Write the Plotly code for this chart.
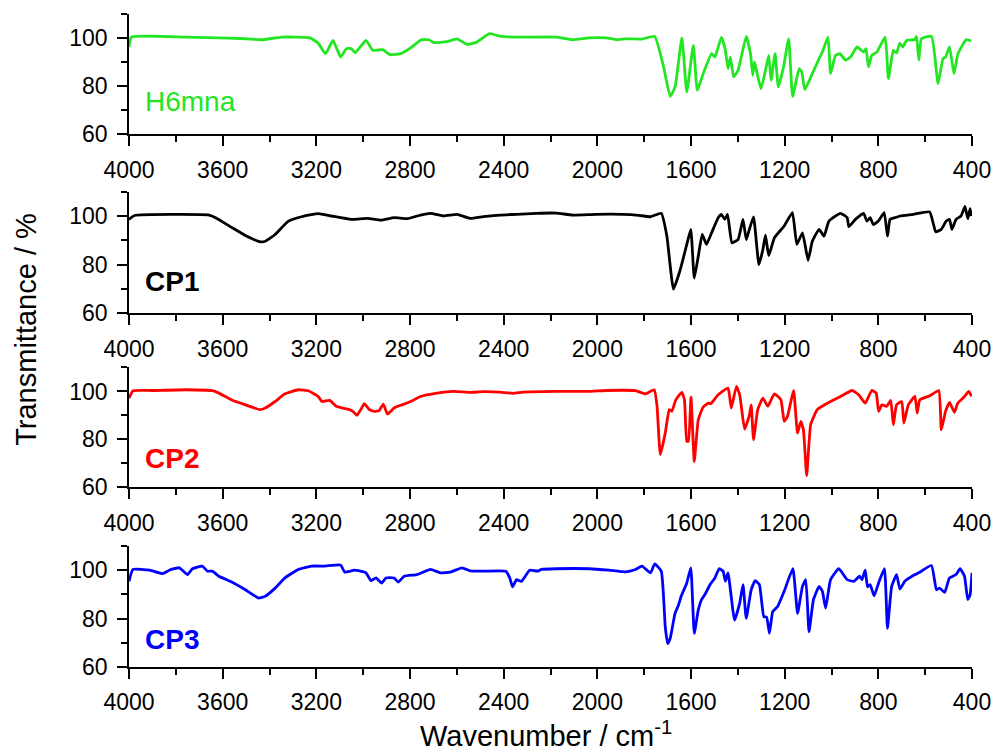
import plotly.graph_objects as go

# ---------------- data (wavenumber cm-1, transmittance %) ----------------
h6mna_wn = [4000, 3990, 3757, 3574, 3475, 3432, 3348, 3228, 3192, 3161, 3129, 3096, 3072, 3051, 3034,
            2988, 2959, 2917, 2885, 2840, 2797, 2752, 2719, 2698, 2642, 2599, 2557, 2515, 2461, 2416,
            2345, 2176, 2105, 2035, 1964, 1915, 1879, 1809, 1755, 1717, 1689, 1668, 1639, 1618, 1590,
            1573, 1548, 1512, 1498, 1470, 1453, 1442, 1432, 1418, 1399, 1364, 1346, 1336, 1329, 1319,
            1301, 1279, 1268, 1258, 1241, 1227, 1205, 1183, 1166, 1138, 1127, 1114, 1082, 1053, 1039,
            1015, 1004, 983, 964, 940, 919, 891, 863, 853, 842, 828, 806, 771, 757, 736,
            722, 708, 696, 679, 644, 637, 627, 616, 573, 545, 524, 513, 496, 477, 460,
            425, 404]
h6mna_t = [96.3, 100.4, 100.4, 100.0, 99.6, 99.3, 100.4, 100.1, 97.9, 93.5, 99.0, 92.1, 95.6, 95.6, 93.9,
           99.0, 94.9, 95.2, 93.1, 93.5, 95.9, 99.3, 99.3, 98.1, 98.5, 99.7, 97.4, 98.3, 101.8, 100.8,
           100.4, 100.4, 99.3, 100.1, 100.1, 99.3, 99.7, 99.6, 100.7, 88.0, 75.8, 79.7, 100.1, 77.6, 97.0,
           78.3, 85.2, 93.5, 92.1, 100.4, 94.9, 87.3, 92.1, 83.9, 86.6, 100.7, 93.5, 84.5, 90.1, 85.9,
           79.0, 88.0, 92.8, 82.5, 93.5, 79.7, 88.0, 99.7, 75.8, 87.3, 85.9, 78.6, 85.2, 91.4, 94.2,
           100.4, 85.2, 92.8, 93.5, 90.8, 92.1, 96.3, 94.2, 95.6, 88.0, 92.8, 94.2, 100.4, 83.2, 94.9,
           93.8, 97.9, 96.3, 99.0, 99.4, 100.7, 90.8, 99.7, 100.7, 81.1, 91.4, 92.1, 96.3, 85.2, 93.5,
           99.3, 98.8]

cp1_wn = [4000, 3976, 3658, 3630, 3560, 3503, 3440, 3418, 3376, 3319, 3263, 3192, 3136, 3051, 2981,
          2924, 2868, 2811, 2755, 2712, 2656, 2599, 2543, 2487, 2416, 2345, 2261, 2176, 2105, 2006,
          1893, 1823, 1773, 1727, 1703, 1675, 1646, 1618, 1601, 1586, 1569, 1552, 1534, 1512, 1484,
          1470, 1456, 1444, 1425, 1399, 1378, 1364, 1353, 1333, 1310, 1293, 1282, 1268, 1244, 1202,
          1167, 1148, 1124, 1100, 1082, 1053, 1032, 1011, 962, 933, 926, 898, 863, 849, 835,
          821, 800, 775, 761, 750, 729, 707, 651, 581, 566, 555, 531, 510, 496, 486,
          468, 447, 430, 418, 408, 403]
cp1_t = [98.6, 100.2, 100.4, 99.3, 95.2, 92.0, 89.4, 89.6, 92.4, 97.9, 99.7, 101.0, 100.0, 98.6, 99.0,
         98.3, 99.3, 98.9, 100.4, 101.1, 100.0, 100.7, 99.0, 99.7, 100.4, 100.7, 101.1, 101.2, 100.4, 100.7,
         100.7, 100.3, 99.7, 101.1, 91.7, 69.9, 77.9, 88.3, 94.5, 74.5, 83.4, 92.4, 88.3, 93.1, 99.3,
         100.7, 98.6, 100.7, 89.0, 90.3, 98.6, 90.3, 93.8, 99.6, 80.0, 86.2, 92.1, 83.7, 91.0, 95.9,
         101.4, 88.3, 93.1, 81.8, 89.6, 94.5, 91.7, 97.9, 101.1, 99.3, 95.6, 98.6, 101.1, 97.9, 99.3,
         96.5, 97.9, 101.4, 91.7, 98.6, 99.3, 100.0, 100.7, 101.7, 97.2, 93.5, 94.5, 97.9, 98.6, 94.5,
         98.6, 100.0, 103.9, 98.9, 103.0, 100.0]

cp2_wn = [4000, 3983, 3898, 3757, 3644, 3616, 3559, 3503, 3440, 3418, 3376, 3334, 3277, 3235, 3192,
          3176, 3143, 3115, 3065, 3044, 3027, 3009, 2995, 2973, 2952, 2931, 2914, 2896, 2868, 2847,
          2825, 2797, 2755, 2684, 2614, 2543, 2487, 2416, 2360, 2317, 2176, 2035, 1964, 1837, 1795,
          1757, 1745, 1731, 1710, 1693, 1682, 1665, 1639, 1628, 1618, 1611, 1600, 1586, 1569, 1548,
          1526, 1515, 1484, 1442, 1428, 1406, 1392, 1371, 1350, 1343, 1333, 1315, 1293, 1272, 1244,
          1216, 1202, 1188, 1162, 1145, 1131, 1120, 1106, 1089, 1061, 1018, 962, 912, 884, 856,
          828, 809, 799, 785, 764, 747, 736, 722, 700, 691, 672, 644, 634, 623, 580,
          542, 531, 513, 496, 475, 461, 432, 414, 401]
cp2_t = [97.2, 100.3, 100.4, 100.7, 100.3, 99.3, 96.3, 94.4, 92.4, 93.1, 95.8, 99.0, 100.7, 100.3, 97.9,
         95.8, 96.3, 93.8, 92.6, 91.7, 90.0, 92.6, 94.9, 92.4, 91.7, 92.1, 94.7, 90.6, 93.1, 94.0,
         94.7, 95.8, 97.9, 99.3, 100.0, 99.6, 99.9, 99.7, 99.2, 99.7, 100.0, 100.0, 100.4, 100.3, 99.0,
         100.7, 93.8, 73.6, 82.6, 92.4, 91.7, 96.5, 99.6, 96.5, 79.2, 79.2, 97.6, 70.8, 88.2, 93.5,
         95.1, 94.9, 98.6, 101.4, 93.1, 102.1, 98.6, 84.3, 90.3, 94.4, 79.9, 92.4, 97.2, 93.8, 99.0,
         96.5, 87.5, 89.6, 100.4, 82.6, 87.5, 84.0, 64.9, 86.1, 92.4, 95.1, 97.9, 100.4, 98.6, 95.1,
         100.4, 99.3, 91.7, 94.4, 93.8, 96.3, 86.1, 94.4, 95.8, 86.8, 94.4, 97.9, 91.0, 96.5, 98.2,
         100.4, 84.0, 91.7, 95.4, 91.3, 95.1, 97.9, 100.0, 97.9]

cp3_wn = [4000, 3983, 3912, 3856, 3828, 3785, 3750, 3729, 3687, 3665, 3644, 3616, 3559, 3503, 3447,
          3418, 3376, 3334, 3277, 3221, 3164, 3096, 3079, 3037, 2988, 2967, 2945, 2921, 2903, 2868,
          2850, 2825, 2769, 2712, 2670, 2628, 2578, 2543, 2487, 2391, 2374, 2362, 2345, 2324, 2289,
          2254, 2239, 2176, 2035, 1950, 1879, 1837, 1809, 1773, 1755, 1727, 1710, 1700, 1689, 1668,
          1653, 1642, 1618, 1601, 1586, 1569, 1555, 1541, 1519, 1498, 1480, 1463, 1453, 1442, 1414,
          1392, 1378, 1364, 1343, 1326, 1308, 1289, 1277, 1265, 1251, 1230, 1202, 1165, 1145, 1124,
          1110, 1096, 1077, 1053, 1039, 1025, 1004, 969, 933, 905, 880, 870, 856, 846, 835,
          818, 799, 774, 761, 743, 722, 708, 687, 651, 623, 573, 552, 538, 517, 496,
          468, 451, 432, 418, 408, 400]
cp3_t = [95.4, 100.3, 100.0, 98.6, 100.0, 101.0, 98.2, 100.6, 101.7, 99.6, 99.6, 97.5, 95.0, 91.9, 88.5,
         89.2, 92.6, 96.8, 100.3, 101.7, 101.7, 102.1, 99.2, 100.0, 98.9, 95.7, 96.8, 94.7, 96.8, 96.8,
         95.1, 97.5, 98.2, 100.3, 98.9, 99.2, 101.0, 99.7, 99.6, 99.6, 96.8, 93.1, 96.1, 95.4, 100.0,
         99.6, 100.3, 100.6, 100.6, 100.0, 99.3, 100.3, 101.7, 98.9, 102.6, 99.6, 76.7, 69.7, 71.8, 82.2,
         85.7, 89.2, 94.7, 101.0, 73.9, 83.6, 87.8, 89.9, 94.0, 96.8, 100.6, 99.6, 95.4, 98.9, 79.4,
         86.4, 94.0, 80.1, 91.9, 95.7, 94.0, 80.8, 80.6, 73.9, 82.9, 85.0, 91.3, 100.6, 82.2, 93.3,
         96.1, 74.6, 87.8, 93.3, 91.3, 84.3, 96.1, 100.6, 96.1, 95.4, 97.5, 96.1, 100.0, 93.1, 94.0,
         89.4, 94.7, 100.6, 76.0, 93.3, 98.2, 92.2, 95.4, 97.8, 99.2, 101.9, 91.9, 92.6, 90.8, 96.8,
         98.2, 100.6, 97.5, 87.8, 89.9, 98.9]

series_names = ["H6mna", "CP1", "CP2", "CP3"]
series_colors = ["#22E622", "#000000", "#FF0000", "#0000FF"]
series_wn = [h6mna_wn, cp1_wn, cp2_wn, cp3_wn]
series_t = [h6mna_t, cp1_t, cp2_t, cp3_t]
label_bold = [False, True, True, True]

x_ticks = [4000, 3600, 3200, 2800, 2400, 2000, 1600, 1200, 800, 400]
x_minor = [3800, 3400, 3000, 2600, 2200, 1800, 1400, 1000, 600]
y_ticks = [60, 80, 100]
y_minor = [70, 90, 110]

# ---------------- figure ----------------
FONT = "Liberation Sans, Arial, sans-serif"
domains = [[0.8157, 1.0], [0.5417, 0.7279], [0.2752, 0.4587], [0.0, 0.1853]]
label_y = [0.27, 0.26, 0.24, 0.23]

fig = go.Figure()
layout = dict(
    width=1003, height=754,
    margin=dict(l=129, r=24, t=14, b=87),
    paper_bgcolor="white", plot_bgcolor="white",
    showlegend=False,
    font=dict(family=FONT, color="black"),
)
annotations = []
for i in range(4):
    n = i + 1
    xs = "x" if n == 1 else f"x{n}"
    ys = "y" if n == 1 else f"y{n}"
    fig.add_trace(go.Scatter(
        x=series_wn[i], y=series_t[i], mode="lines", xaxis=xs, yaxis=ys,
        line=dict(color=series_colors[i], width=2.8, shape="spline", smoothing=0.4),
        name=series_names[i], hoverinfo="skip",
    ))
    xk = "xaxis" if n == 1 else f"xaxis{n}"
    yk = "yaxis" if n == 1 else f"yaxis{n}"
    layout[xk] = dict(
        domain=[0, 1], anchor=ys, range=[4000, 400],
        tickmode="array", tickvals=x_ticks, ticktext=[str(v) for v in x_ticks],
        ticks="outside", ticklen=10, tickwidth=1.5, tickcolor="black",
        minor=dict(tickmode="array", tickvals=x_minor, ticks="outside", ticklen=6,
                   tickwidth=1.5, tickcolor="black", showgrid=False),
        showline=True, linecolor="black", linewidth=1.5, mirror=False,
        showgrid=False, zeroline=False,
        tickfont=dict(family=FONT, size=23, color="black"),
        ticklabelstandoff=4,
    )
    layout[yk] = dict(
        domain=domains[i], anchor=xs, range=[60, 110],
        tickmode="array", tickvals=y_ticks,
        ticks="outside", ticklen=10, tickwidth=1.5, tickcolor="black",
        minor=dict(tickmode="array", tickvals=y_minor, ticks="outside", ticklen=6,
                   tickwidth=1.5, tickcolor="black", showgrid=False),
        showline=True, linecolor="black", linewidth=1.5, mirror=False,
        showgrid=False, zeroline=False,
        tickfont=dict(family=FONT, size=23, color="black"),
        ticklabelstandoff=5,
    )
    txt = f"<b>{series_names[i]}</b>" if label_bold[i] else series_names[i]
    annotations.append(dict(
        text=txt, xref=f"{xs} domain", yref=f"{ys} domain",
        x=0.017, y=label_y[i], xanchor="left", yanchor="middle", showarrow=False,
        font=dict(family=FONT, size=28, color=series_colors[i]),
    ))

annotations.append(dict(
    text="Wavenumber / cm<sup>-1</sup>", xref="paper", yref="paper",
    x=0.495, y=-0.1332, xanchor="center", yanchor="bottom", showarrow=False,
    font=dict(family=FONT, size=29, color="black"),
))
annotations.append(dict(
    text="Transmittance / %", xref="paper", yref="paper", textangle=-90,
    x=-0.1224, y=0.5176, xanchor="center", yanchor="middle", showarrow=False,
    font=dict(family=FONT, size=29, color="black"),
))
layout["annotations"] = annotations
fig.update_layout(**layout)
# remove the browser's default 8px body margin / scrollbars so the 1003x754 figure fills the window
fig.write_html(
    "out.html",
    config={"displayModeBar": False, "responsive": False},
    post_script=("document.documentElement.style.overflow='hidden';"
                 "document.body.style.overflow='hidden';"
                 "document.body.style.margin='0px';"),
)
